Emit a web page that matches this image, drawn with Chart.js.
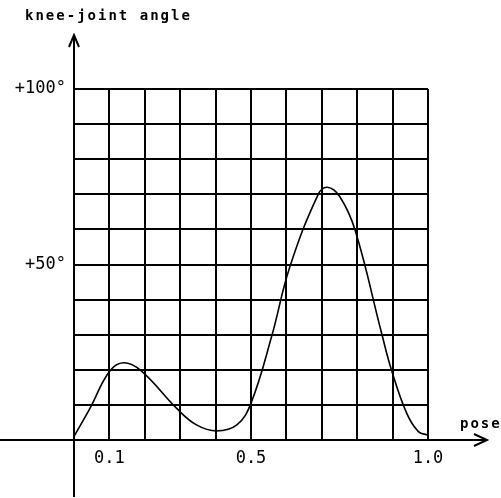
<!DOCTYPE html>
<html>
<head>
<meta charset="utf-8">
<script src="https://cdn.jsdelivr.net/npm/chart.js@4.4.0/dist/chart.umd.min.js"></script>
<style>
  html, body { margin: 0; padding: 0; background: #fff; }
  #wrap { width: 501px; height: 498px; }
</style>
</head>
<body>
<div id="wrap"><canvas id="kneeChart"></canvas></div>
<script>
// pose (0..1) vs knee-joint angle (degrees)
const poses  = [0, 0.045, 0.1, 0.14, 0.19, 0.29, 0.346, 0.403, 0.46, 0.5, 0.558, 0.61, 0.69, 0.716, 0.751, 0.794, 0.869, 0.897, 0.94, 0.973, 1.0]
const angles = [1, 9, 19.5, 22, 19.7, 9, 4.3, 2.6, 4.3, 10.5, 29.4, 49.4, 70, 72, 69.3, 59.8, 30.4, 19.9, 7.6, 2.4, 1.4]

const xLabels = { 1: "0.1", 5: "0.5", 10: "1.0" }
const yLabels = { 50: "+50°", 100: "+100°" }

const penFont = "'DejaVu Sans Mono', monospace"

// axis lines run past the grid, with arrow heads, plus the axis captions
const axisArrows = {
    id: "axisArrows",
    afterDraw(chart) {
        const ctx = chart.ctx
        const x0 = chart.scales.x.getPixelForValue(0)
        const y0 = chart.scales.y.getPixelForValue(0)
        ctx.save()
        ctx.strokeStyle = "#000"
        ctx.lineWidth = 2
        ctx.beginPath()
        ctx.moveTo(x0, 497)
        ctx.lineTo(x0, 35)
        ctx.moveTo(x0 - 5, 47)
        ctx.lineTo(x0, 35)
        ctx.lineTo(x0 + 5, 47)
        ctx.moveTo(0, y0)
        ctx.lineTo(487, y0)
        ctx.moveTo(474, y0 - 6)
        ctx.lineTo(487, y0)
        ctx.lineTo(474, y0 + 6)
        ctx.stroke()

        ctx.fillStyle = "#000"
        ctx.font = "bold 14px " + penFont
        ctx.letterSpacing = "2px"
        ctx.textBaseline = "middle"
        ctx.textAlign = "left"
        ctx.fillText("knee-joint angle", 25, 16)
        ctx.fillText("pose", 460, 424)
        ctx.restore()
    }
}

new Chart(document.getElementById("kneeChart"), {
    type: "scatter",
    data: {
        datasets: [{
            data: poses.map((p, i) => ({ x: p, y: angles[i] })),
            showLine: true,
            tension: 0.4,
            borderColor: "#000",
            borderWidth: 1.6,
            pointRadius: 0,
            fill: false
        }]
    },
    options: {
        responsive: true,
        maintainAspectRatio: false,
        animation: false,
        layout: { padding: { top: 89, right: 73, left: 0, bottom: 0 } },
        plugins: {
            legend: { display: false },
            tooltip: { enabled: false }
        },
        scales: {
            x: {
                type: "linear",
                min: 0,
                max: 1,
                afterFit: (s) => { s.height = 58 },
                border: { display: false },
                grid: { color: "#000", lineWidth: 2, drawTicks: false },
                ticks: {
                    stepSize: 0.1,
                    padding: 8,
                    color: "#000",
                    maxRotation: 0,
                    autoSkip: false,
                    font: { family: penFont, size: 17 },
                    callback: (v) => xLabels[Math.round(v * 10)] || ""
                }
            },
            y: {
                min: 0,
                max: 100,
                afterFit: (s) => { s.width = 74 },
                border: { display: false },
                grid: { color: "#000", lineWidth: 2, drawTicks: false },
                ticks: {
                    stepSize: 10,
                    padding: 8,
                    color: "#000",
                    autoSkip: false,
                    font: { family: penFont, size: 17 },
                    callback: (v) => yLabels[Math.round(v)] || ""
                }
            }
        }
    },
    plugins: [axisArrows]
})
</script>
</body>
</html>
